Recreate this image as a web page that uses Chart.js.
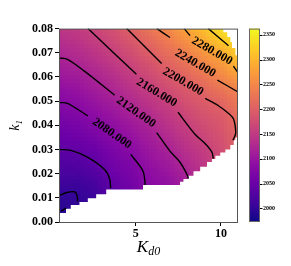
<!DOCTYPE html>
<html>
<head>
<meta charset="utf-8">
<title>k1 vs Kd0 map</title>
<script src="https://cdn.jsdelivr.net/npm/chart.js"></script>
<style>
  html, body { margin: 0; padding: 0; background: #fff; }
</style>
</head>
<body>
<canvas id="map" width="291" height="266"></canvas>
<script>
const kd0Nodes = [0.5, 1.55, 2.6, 3.65, 4.7, 5.75, 6.8, 7.85, 8.9, 9.95, 11.0];
const k1Nodes = [0, 0.005, 0.01, 0.015, 0.02, 0.025, 0.03, 0.035, 0.04, 0.045, 0.05, 0.055, 0.06, 0.065, 0.07, 0.075, 0.08];
// one row per k1 node, bottom row first
const zRows = [
  [1988, 1998, 2000, 2028, 2048, 2076, 2086, 2102, 2130, 2160, 2190],
  [1992, 2000, 2003, 2030, 2050, 2078, 2088, 2105, 2132, 2162, 2193],
  [1998, 2001, 2008, 2035, 2055, 2080, 2090, 2108, 2134, 2164, 2195],
  [2009, 2007, 2018, 2043, 2060, 2082, 2093, 2110, 2137, 2166, 2197],
  [2019, 2019, 2029, 2053, 2066, 2088, 2099, 2117, 2140, 2168, 2199],
  [2029, 2031, 2041, 2062, 2073, 2096, 2108, 2127, 2147, 2171, 2200],
  [2040, 2043, 2053, 2070, 2084, 2103, 2117, 2137, 2153, 2175, 2202],
  [2050, 2054, 2065, 2081, 2095, 2111, 2128, 2146, 2163, 2182, 2205],
  [2060, 2065, 2077, 2091, 2106, 2120, 2139, 2156, 2174, 2189, 2212],
  [2070, 2076, 2088, 2102, 2117, 2132, 2149, 2168, 2185, 2195, 2220],
  [2081, 2087, 2100, 2113, 2128, 2144, 2160, 2180, 2195, 2209, 2231],
  [2092, 2098, 2111, 2124, 2140, 2156, 2174, 2192, 2209, 2228, 2244],
  [2103, 2109, 2122, 2135, 2152, 2170, 2189, 2205, 2226, 2247, 2272],
  [2114, 2121, 2133, 2147, 2164, 2183, 2203, 2221, 2242, 2267, 2298],
  [2124, 2131, 2144, 2159, 2177, 2197, 2218, 2237, 2264, 2287, 2320],
  [2135, 2142, 2155, 2170, 2190, 2212, 2233, 2257, 2286, 2316, 2335],
  [2146, 2152, 2166, 2181, 2203, 2228, 2248, 2280, 2308, 2340, 2350]
];

// contour lines, split where the inline labels sit
const c2000 = [[[0.5, 0.0109], [0.91, 0.0121], [1.40, 0.0125], [1.56, 0.0109], [1.59, 0.0085]],
               [[0.62, 0.0045], [0.92, 0.0057]]];
const c2040 = [[[0.5, 0.0300], [1.2, 0.0296], [2.19, 0.0267], [3.17, 0.0217], [3.47, 0.0179], [3.53, 0.0140]]];
const c2080 = [[[0.5, 0.0494], [1.0, 0.0491], [2.19, 0.0439]],
               [[4.71, 0.0280], [5.43, 0.0210], [5.56, 0.0153]]];
const c2120 = [[[0.5, 0.0678], [1.0, 0.0673], [1.99, 0.0624], [3.76, 0.0525]],
               [[6.23, 0.0370], [7.01, 0.0293], [7.6, 0.0247], [8.0, 0.0198], [8.09, 0.0180]]];
const c2160 = [[[2.2, 0.08], [5.04, 0.0611]],
               [[7.48, 0.0454], [8.49, 0.0362], [9.08, 0.0324], [9.47, 0.0289], [9.55, 0.0262]]];
const c2200 = [[[4.47, 0.08], [6.52, 0.0656]],
               [[9.08, 0.0511], [9.85, 0.0481], [10.43, 0.0450], [10.73, 0.0427], [10.85, 0.0389], [10.85, 0.0362], [10.70, 0.0338]]];
const c2240 = [[[6.24, 0.08], [7.01, 0.0763]], [[9.79, 0.0587], [11.0, 0.0538]]];
const c2280 = [[[7.84, 0.08], [8.19, 0.0771]], [[10.73, 0.0645], [11.0, 0.0618]]];
const c2320 = [[[9.26, 0.08], [10.38, 0.0733], [10.44, 0.0729]]];
const contours = [c2000, c2040, c2080, c2120, c2160, c2200, c2240, c2280, c2320];

// inline labels
const labelText = ['2080.000', '2120.000', '2160.000', '2200.000', '2240.000', '2280.000'];
const labelX = [3.60, 5.01, 6.23, 7.78, 8.49, 9.47];
const labelY = [0.0366, 0.0454, 0.0535, 0.0580, 0.0656, 0.0707];
const labelAngle = [35, 35, 31, 30, 30, 30];

// blank (no solution) regions, stepped edges
const maskLowX = [0.5, 0.91, 1.19, 1.70, 2.19, 2.68, 3.27, 5.43, 7.60, 7.80, 8.09, 8.39, 8.78, 9.18, 9.47, 9.67, 9.96, 10.26, 10.55, 10.75, 10.85, 11.0];
const maskLowY = [0.0037, 0.0055, 0.0070, 0.0083, 0.0098, 0.0115, 0.0134, 0.0153, 0.0166, 0.0178, 0.0191, 0.0210, 0.0229, 0.0248, 0.0261, 0.0274, 0.0287, 0.0300, 0.0319, 0.0338, 0.0350, 0.0350];
const maskHighX = [10.13, 10.37, 10.55, 10.65, 10.85, 11.0];
const maskHighY = [0.0785, 0.0765, 0.0745, 0.0720, 0.0690, 0.0690];

const xTicks = [5, 10];
const cbTicks = [2000, 2050, 2100, 2150, 2200, 2250, 2300, 2350];
const cbMin = 1972.6, cbMax = 2362.5;

const plasmaStops = [
  [13, 8, 135], [65, 4, 157], [106, 0, 168], [143, 13, 164], [177, 42, 144], [204, 71, 120],
  [225, 100, 98], [242, 132, 75], [252, 166, 54], [252, 206, 37], [240, 249, 33]
];
function plasma(t) {
  t = Math.max(0, Math.min(1, t)) * 10;
  const i = Math.min(9, Math.floor(t)), f = t - i;
  const a = plasmaStops[i], b = plasmaStops[i + 1];
  return [0, 1, 2].map(k => Math.round(a[k] + (b[k] - a[k]) * f));
}

const serif = "'Liberation Serif', 'Times New Roman', serif";
const cellCols = 50, cellRows = 50;

const heatPlugin = {
  id: 'heat',
  beforeDatasetsDraw(chart) {
    const { ctx, chartArea: a, scales: { x, y } } = chart;
    const nx = kd0Nodes.length, ny = k1Nodes.length;
    // node image with a one pixel replicated rim so scaling does not fade the edges
    const src = document.createElement('canvas');
    src.width = nx + 2; src.height = ny + 2;
    const sctx = src.getContext('2d');
    const img = sctx.createImageData(nx + 2, ny + 2);
    for (let r = 0; r < ny + 2; r++) {
      for (let c = 0; c < nx + 2; c++) {
        const j = Math.max(0, Math.min(ny - 1, ny - r));
        const i = Math.max(0, Math.min(nx - 1, c - 1));
        const col = plasma((zRows[j][i] - cbMin) / (cbMax - cbMin));
        const p = (r * (nx + 2) + c) * 4;
        img.data[p] = col[0]; img.data[p + 1] = col[1]; img.data[p + 2] = col[2]; img.data[p + 3] = 255;
      }
    }
    sctx.putImageData(img, 0, 0);
    const dxn = kd0Nodes[1] - kd0Nodes[0], dyn = k1Nodes[1] - k1Nodes[0];
    const cells = document.createElement('canvas');
    cells.width = cellCols; cells.height = cellRows;
    const cctx = cells.getContext('2d');
    cctx.imageSmoothingEnabled = true;
    const sx = cellCols / (x.max - x.min), sy = cellRows / (y.max - y.min);
    cctx.drawImage(src,
      (kd0Nodes[0] - 1.5 * dxn - x.min) * sx,
      (y.max - (k1Nodes[ny - 1] + 1.5 * dyn)) * sy,
      (nx + 2) * dxn * sx, (ny + 2) * dyn * sy);
    ctx.save();
    ctx.imageSmoothingEnabled = false;
    ctx.drawImage(cells, a.left, a.top, a.right - a.left, a.bottom - a.top);
    ctx.restore();
  },
  afterDatasetsDraw(chart) {
    const { ctx, chartArea: a, scales: { x, y, cb } } = chart;
    ctx.save();
    // inline contour labels
    ctx.fillStyle = '#000';
    ctx.font = 'bold 12px ' + serif;
    ctx.textAlign = 'center';
    ctx.textBaseline = 'middle';
    labelText.forEach((t, i) => {
      ctx.save();
      ctx.translate(x.getPixelForValue(labelX[i]), y.getPixelForValue(labelY[i]));
      ctx.rotate(labelAngle[i] * Math.PI / 180);
      ctx.fillText(t, 0, 0);
      ctx.restore();
    });
    // frame
    ctx.strokeStyle = '#555';
    ctx.lineWidth = 1;
    ctx.strokeRect(a.left + 0.5, a.top + 0.5, a.right - a.left - 1, a.bottom - a.top);
    // colour bar
    const bx = 249, bw = 11;
    const top = cb.getPixelForValue(cbMax), bot = cb.getPixelForValue(cbMin);
    const g = ctx.createLinearGradient(0, bot, 0, top);
    plasmaStops.forEach((s, i) => g.addColorStop(i / 10, 'rgb(' + s.join(',') + ')'));
    ctx.fillStyle = g;
    ctx.fillRect(bx, top, bw, bot - top);
    ctx.strokeStyle = '#666';
    ctx.strokeRect(bx + 0.5, top + 0.5, bw - 1, bot - top - 1);
    ctx.strokeStyle = '#000';
    cbTicks.forEach(v => {
      const py = Math.round(cb.getPixelForValue(v)) + 0.5;
      ctx.beginPath(); ctx.moveTo(bx + bw, py); ctx.lineTo(bx + bw + 2.5, py); ctx.stroke();
    });
    // axis titles
    ctx.fillStyle = '#000';
    ctx.textAlign = 'left';
    ctx.textBaseline = 'alphabetic';
    ctx.font = 'italic 17px ' + serif;
    const kw = ctx.measureText('K').width;
    ctx.font = 'italic 12px ' + serif;
    const dw = ctx.measureText('d0').width;
    const x0 = (a.left + a.right) / 2 - (kw + dw) / 2;
    ctx.font = 'italic 17px ' + serif;
    ctx.fillText('K', x0, 251.5);
    ctx.font = 'italic 12px ' + serif;
    ctx.fillText('d0', x0 + kw, 254.5);
    ctx.save();
    ctx.translate(19, (a.top + a.bottom) / 2);
    ctx.rotate(-Math.PI / 2);
    ctx.font = 'italic 14px ' + serif;
    const lw = ctx.measureText('k').width;
    ctx.font = 'italic 9px ' + serif;
    const ow = ctx.measureText('1').width;
    ctx.font = 'italic 14px ' + serif;
    ctx.fillText('k', -(lw + ow) / 2, 0);
    ctx.font = 'italic 9px ' + serif;
    ctx.fillText('1', -(lw + ow) / 2 + lw, 2.5);
    ctx.restore();
    ctx.restore();
  }
};

const datasets = [];
contours.forEach(level => level.forEach(seg => datasets.push({
  data: seg.map(p => ({ x: p[0], y: p[1] })),
  borderColor: '#000', borderWidth: 1.4, pointRadius: 0, tension: 0.3, fill: false, order: 0
})));
datasets.push({
  data: maskLowX.map((v, i) => ({ x: v, y: maskLowY[i] })),
  stepped: true, fill: 'start', backgroundColor: '#fff', borderWidth: 0, pointRadius: 0, order: 1
});
datasets.push({
  data: maskHighX.map((v, i) => ({ x: v, y: maskHighY[i] })),
  stepped: true, fill: 'end', backgroundColor: '#fff', borderWidth: 0, pointRadius: 0, order: 1
});

const tickFont = { family: serif, size: 12, weight: 'bold' };

new Chart(document.getElementById('map'), {
  type: 'line',
  data: { datasets },
  options: {
    responsive: false,
    animation: false,
    layout: { padding: { top: 12, left: 0, right: 0, bottom: 0 } },
    plugins: { legend: { display: false }, tooltip: { enabled: false } },
    scales: {
      x: {
        type: 'linear', min: 0.5, max: 11,
        afterBuildTicks: s => { s.ticks = xTicks.map(v => ({ value: v })); },
        afterFit: s => { s.height = 44; },
        ticks: { font: tickFont, color: '#000', padding: 1, maxRotation: 0 },
        grid: { drawOnChartArea: false, tickLength: 4, color: '#000' },
        border: { display: false }
      },
      y: {
        type: 'linear', min: 0, max: 0.08,
        afterBuildTicks: s => { s.ticks = [0, 1, 2, 3, 4, 5, 6, 7, 8].map(v => ({ value: v / 100 })); },
        afterFit: s => { s.width = 59; },
        ticks: { font: tickFont, color: '#000', padding: 2, callback: v => v.toFixed(2) },
        grid: { drawOnChartArea: false, tickLength: 4, color: '#000' },
        border: { display: false }
      },
      cb: {
        type: 'linear', position: 'right', min: cbMin, max: cbMax,
        afterBuildTicks: s => { s.ticks = cbTicks.map(v => ({ value: v })); },
        afterFit: s => { s.width = 53; },
        ticks: { font: { family: serif, size: 6, weight: 'bold' }, color: '#000', padding: 25, callback: v => String(v) },
        grid: { display: false, drawTicks: false },
        border: { display: false }
      }
    }
  },
  plugins: [heatPlugin]
});
</script>
</body>
</html>
